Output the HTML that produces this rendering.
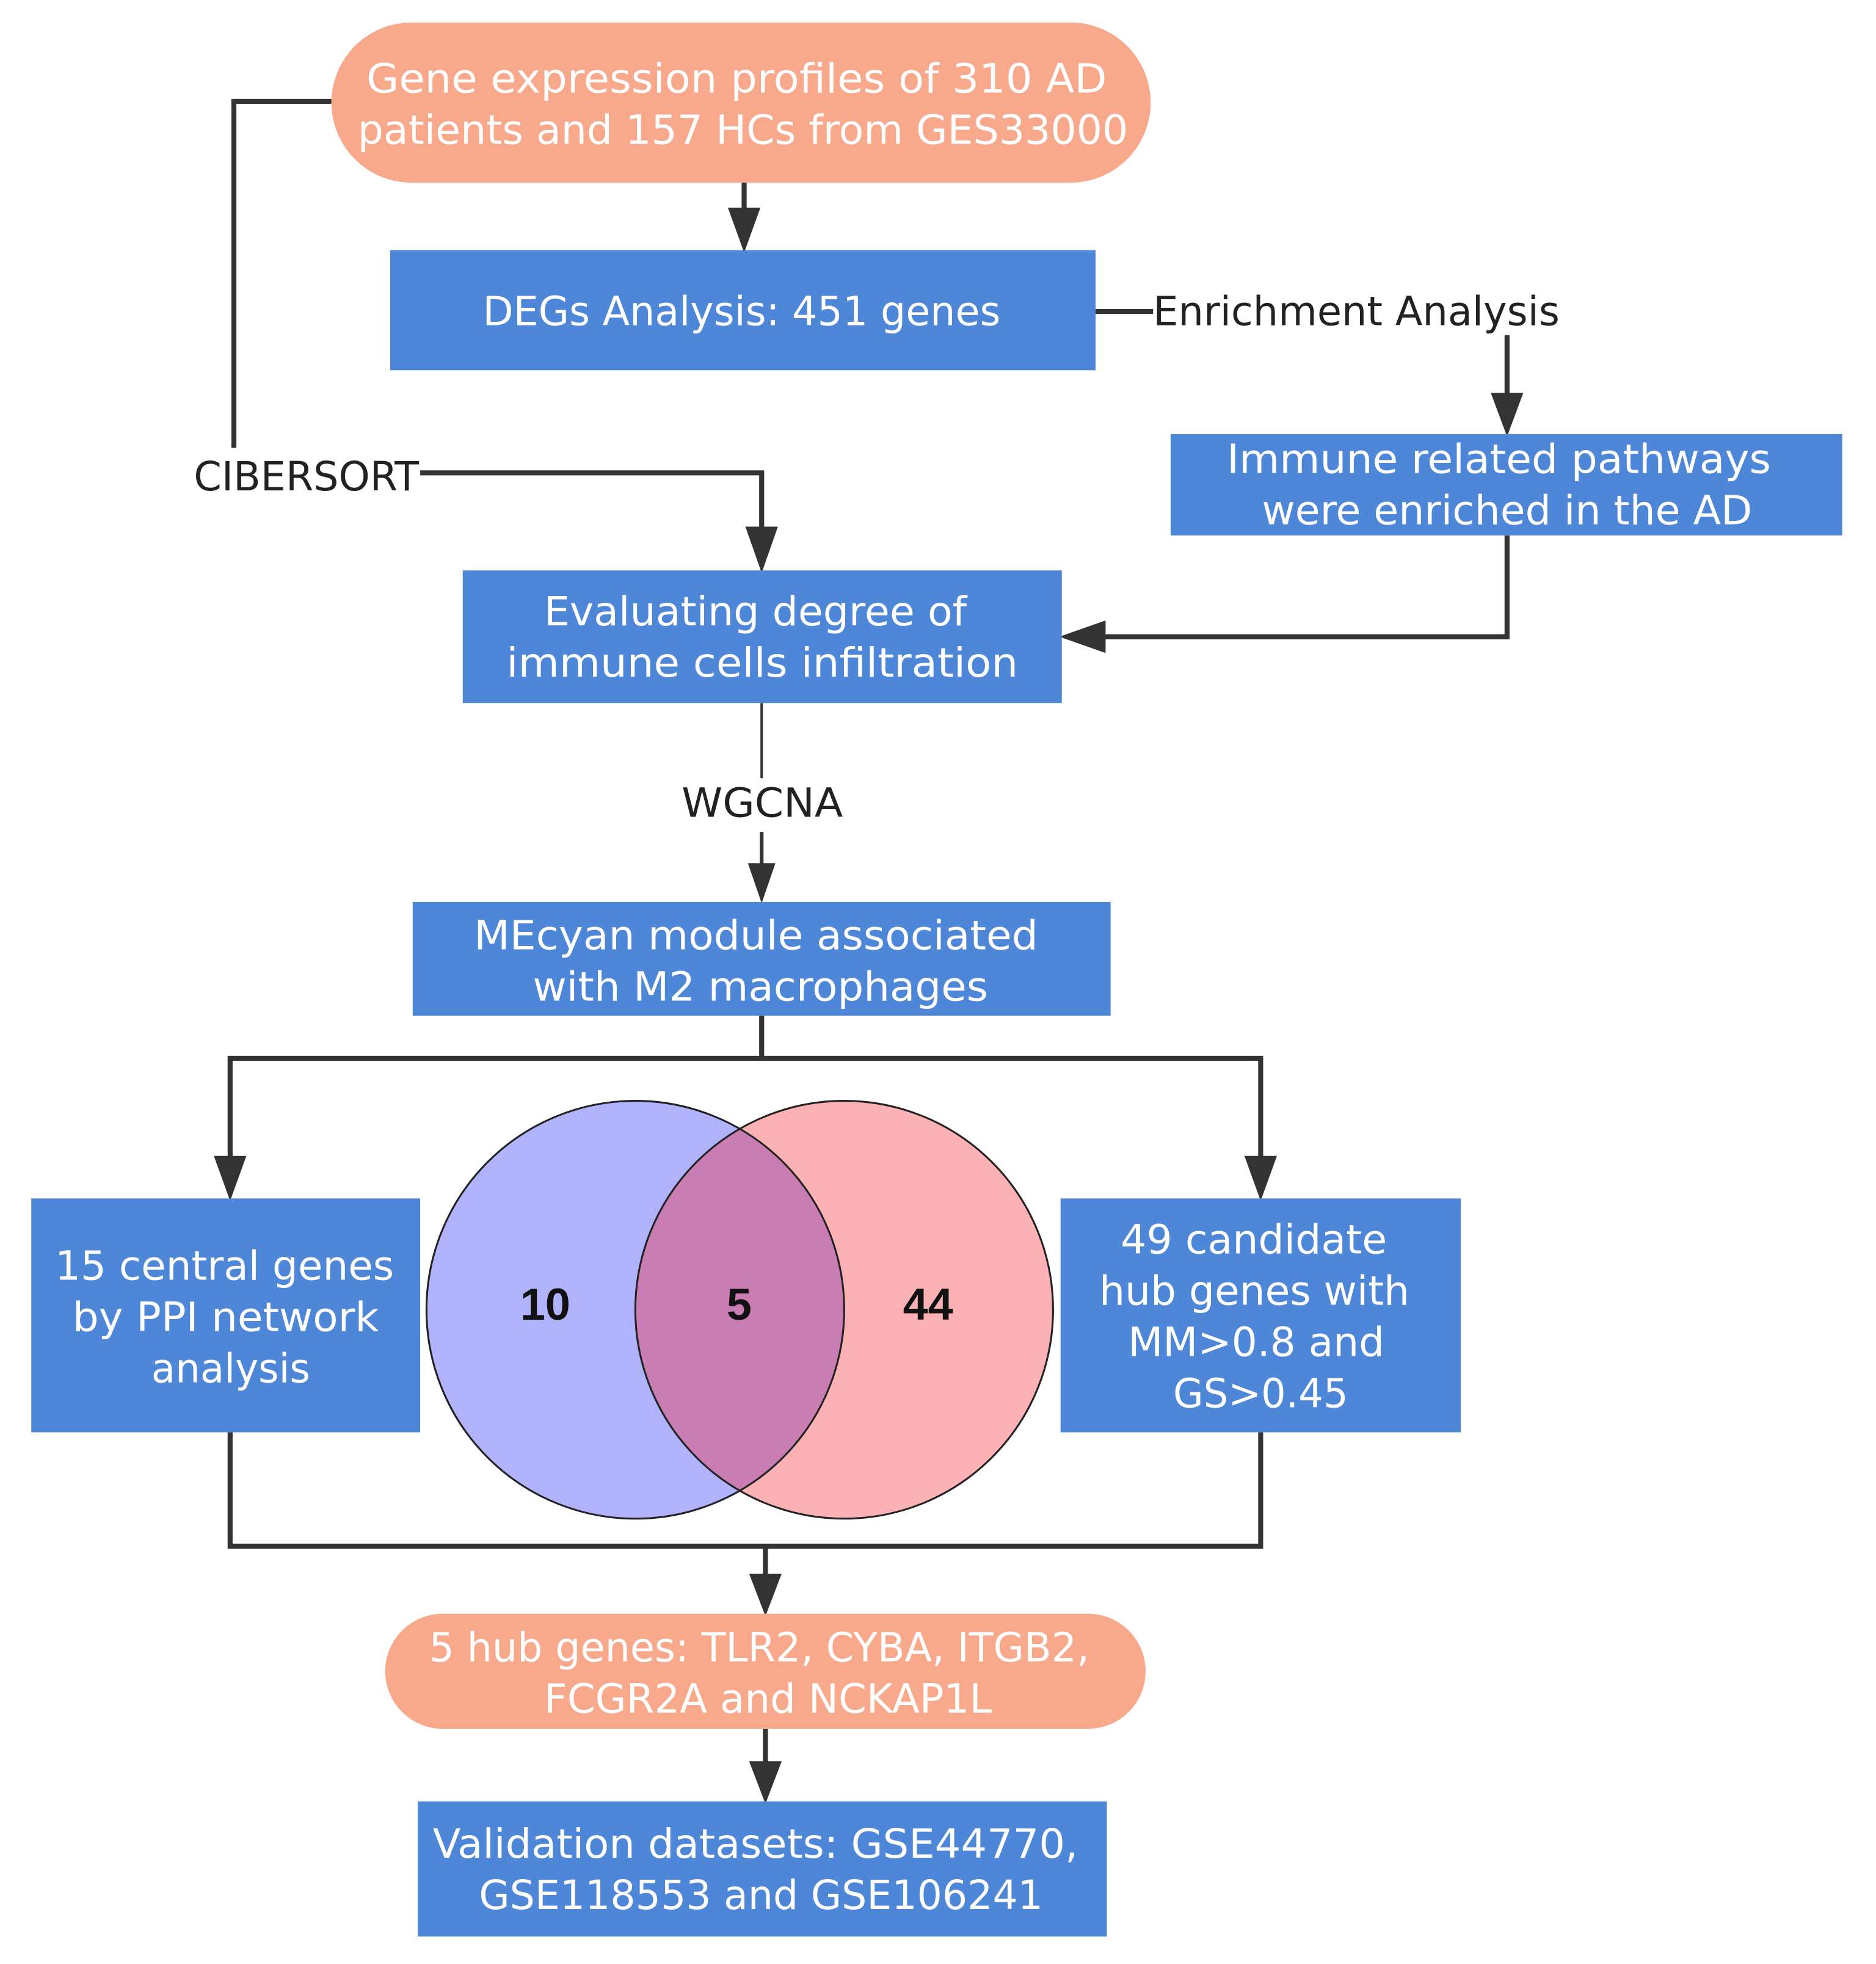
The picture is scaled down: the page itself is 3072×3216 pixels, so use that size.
<!DOCTYPE html>
<html><head><meta charset="utf-8"><style>
html,body{margin:0;padding:0;background:#fff;}
svg{display:block;}
text{font-family:"DejaVu Sans","Liberation Sans",sans-serif;}
</style></head><body>
<svg width="3072" height="3216" viewBox="0 0 1500 1570" preserveAspectRatio="none" xmlns="http://www.w3.org/2000/svg">
<defs>
<clipPath id="cb"><circle cx="508" cy="1047" r="167"/></clipPath>
</defs>
<rect width="1500" height="1570" fill="#fff"/>
<g fill="none" stroke="#333" stroke-width="4">
<polyline points="265,81 187,81 187,358"/>
<polyline points="336,378 609,378 609,425"/>
<line x1="595" y1="146" x2="595" y2="170"/>
<polyline points="876,249 922,249"/>
<line x1="1205" y1="268" x2="1205" y2="318"/>
<polyline points="1205,428 1205,509 880,509"/>
<line x1="609" y1="665" x2="609" y2="694" stroke-width="3"/>
<polyline points="609,812 609,846"/>
<polyline points="184,928 184,846 1008,846 1008,928"/>
<polyline points="184,1145 184,1236 1008,1236 1008,1145"/>
<line x1="612" y1="1236" x2="612" y2="1262"/>
<line x1="612" y1="1382" x2="612" y2="1412"/>
</g>
<line x1="609" y1="562" x2="609" y2="622" stroke="#333" stroke-width="2"/>
<g fill="#333">
<polygon points="582,166 608,166 595,202"/>
<polygon points="1192,314 1218,314 1205,349"/>
<polygon points="596,421 622,421 609,458"/>
<polygon points="884,496 884,522 847,509"/>
<polygon points="598,690 620,690 609,722"/>
<polygon points="171,924 197,924 184,960"/>
<polygon points="995,924 1021,924 1008,960"/>
<polygon points="599,1258 625,1258 612,1292"/>
<polygon points="599,1408 625,1408 612,1442"/>
</g>
<rect x="265" y="18" width="655" height="128" rx="64" fill="#F9A98B"/>
<rect x="312" y="200" width="564" height="96" fill="#4E86D8"/>
<rect x="936" y="347" width="537" height="81" fill="#4E86D8"/>
<rect x="370" y="456" width="479" height="106" fill="#4E86D8"/>
<rect x="330" y="721" width="558" height="91" fill="#4E86D8"/>
<rect x="25" y="958" width="311" height="187" fill="#4E86D8"/>
<rect x="848" y="958" width="320" height="187" fill="#4E86D8"/>
<rect x="308" y="1290" width="608" height="92" rx="46" fill="#F9A98B"/>
<rect x="334" y="1440" width="551" height="108" fill="#4E86D8"/>
<circle cx="508" cy="1047" r="167" fill="#B0B2FB"/>
<circle cx="675" cy="1047" r="167" fill="#FCB2B5"/>
<circle cx="675" cy="1047" r="167" fill="#C97DB3" clip-path="url(#cb)"/>
<circle cx="508" cy="1047" r="167" fill="none" stroke="#222" stroke-width="1.5"/>
<circle cx="675" cy="1047" r="167" fill="none" stroke="#222" stroke-width="1.5"/>
<g font-family="Liberation Sans, sans-serif" font-size="36" font-weight="bold" fill="#111" text-anchor="middle">
<text x="436" y="1055" style="font-family:'Liberation Sans',sans-serif">10</text><text x="591" y="1055" style="font-family:'Liberation Sans',sans-serif">5</text><text x="742" y="1055" style="font-family:'Liberation Sans',sans-serif">44</text>
</g>
<g font-size="32" fill="#fff">
<text x="293" y="74" textLength="592" lengthAdjust="spacingAndGlyphs">Gene expression profiles  of 310 AD</text>
<text x="286" y="115" textLength="616" lengthAdjust="spacingAndGlyphs">patients and 157 HCs from GES33000</text>
<text x="386" y="260" textLength="414" lengthAdjust="spacingAndGlyphs">DEGs Analysis: 451 genes</text>
<text x="981" y="378" textLength="435" lengthAdjust="spacingAndGlyphs">Immune related pathways</text>
<text x="1009" y="419" textLength="392" lengthAdjust="spacingAndGlyphs">were enriched in the AD</text>
<text x="435" y="500" textLength="338" lengthAdjust="spacingAndGlyphs">Evaluating degree of</text>
<text x="405" y="541" textLength="409" lengthAdjust="spacingAndGlyphs">immune cells  infiltration</text>
<text x="379" y="759" textLength="451" lengthAdjust="spacingAndGlyphs">MEcyan module associated</text>
<text x="426" y="800" textLength="364" lengthAdjust="spacingAndGlyphs">with M2 macrophages</text>
<text x="44" y="1023" textLength="271" lengthAdjust="spacingAndGlyphs">15 central genes</text>
<text x="58" y="1064" textLength="245" lengthAdjust="spacingAndGlyphs">by PPI network</text>
<text x="121" y="1105" textLength="127" lengthAdjust="spacingAndGlyphs">analysis</text>
<text x="896" y="1002" textLength="213" lengthAdjust="spacingAndGlyphs">49 candidate</text>
<text x="879" y="1043" textLength="248" lengthAdjust="spacingAndGlyphs">hub genes with</text>
<text x="902" y="1084" textLength="205" lengthAdjust="spacingAndGlyphs">MM&gt;0.8 and</text>
<text x="938" y="1125" textLength="140" lengthAdjust="spacingAndGlyphs">GS&gt;0.45</text>
<text x="343" y="1328" textLength="528" lengthAdjust="spacingAndGlyphs">5 hub genes: TLR2, CYBA, ITGB2,</text>
<text x="435" y="1369" textLength="358" lengthAdjust="spacingAndGlyphs">FCGR2A and NCKAP1L</text>
<text x="346" y="1485" textLength="516" lengthAdjust="spacingAndGlyphs">Validation datasets: GSE44770,</text>
<text x="383" y="1526" textLength="451" lengthAdjust="spacingAndGlyphs">GSE118553 and GSE106241</text>
</g>
<g font-size="32" fill="#222">
<text x="922" y="260" textLength="325" lengthAdjust="spacingAndGlyphs">Enrichment Analysis</text>
<text x="155" y="392" textLength="180" lengthAdjust="spacingAndGlyphs">CIBERSORT</text>
<text x="545" y="653" textLength="129" lengthAdjust="spacingAndGlyphs">WGCNA</text>
</g>
</svg>
</body></html>
